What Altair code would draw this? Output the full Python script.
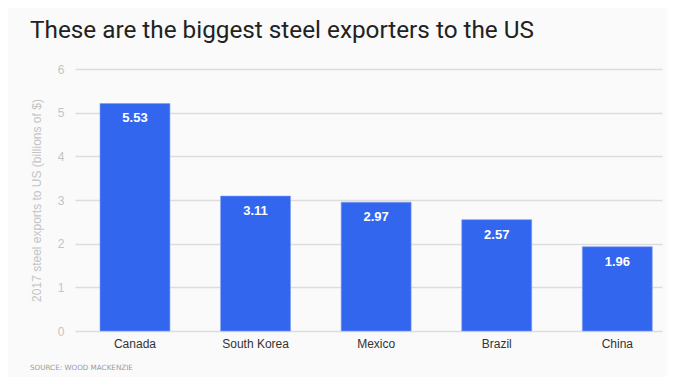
import altair as alt
import pandas as pd

countries = ["Canada", "South Korea", "Mexico", "Brazil", "China"]
bar_heights = [5.21, 3.09, 2.95, 2.55, 1.93]
label_values = ["5.53", "3.11", "2.97", "2.57", "1.96"]
y_ticks = [0, 1, 2, 3, 4, 5, 6]

title_text = "These are the biggest steel exporters to the US"
source_text = "SOURCE: WOOD MACKENZIE"
y_title = "2017 steel exports to US (billions of $)"

df = pd.DataFrame({"country": countries, "value": bar_heights, "label": label_values})

BLUE = "#3366ee"
W, H = 587, 262

x = alt.X("country:N", sort=countries, title=None,
          scale=alt.Scale(paddingInner=0.42, paddingOuter=0.144, align=0.72),
          axis=alt.Axis(labelAngle=0, labelColor="#333333", labelFontSize=12,
                        labelFont="Liberation Sans", labelPadding=7,
                        domain=False, ticks=False, grid=False))
y = alt.Y("value:Q", title=y_title,
          scale=alt.Scale(domain=[0, 6], nice=False),
          axis=alt.Axis(values=y_ticks, labelColor="#c4c4c4", labelFontSize=12,
                        labelFont="Liberation Sans", labelPadding=11,
                        titleColor="#c4c4c4", titleFontSize=12, titleFontWeight="normal",
                        titleFont="Liberation Sans", titlePadding=14,
                        domain=False, ticks=False, grid=True,
                        gridColor="#dddddd", gridWidth=1.5))

bars = alt.Chart(df).mark_bar(color=BLUE, stroke="#7f9cf5", strokeWidth=0.6).encode(x=x, y=y)

labels = alt.Chart(df).mark_text(color="white", fontSize=13, fontWeight="bold",
                                 font="Liberation Sans", baseline="middle", dy=15).encode(
    x=alt.X("country:N", sort=countries), y="value:Q", text="label:N")

title = alt.Chart(pd.DataFrame({"t": [title_text]})).mark_text(
    align="left", baseline="alphabetic", fontSize=24.3, font="Roboto", color="#222222"
).encode(x=alt.value(30 - 75), y=alt.value(38 - 69), text="t:N")

source = alt.Chart(pd.DataFrame({"t": [source_text]})).mark_text(
    align="left", baseline="middle", fontSize=7.2, font="DejaVu Sans", color="#9a9a9a"
).encode(x=alt.value(30 - 75), y=alt.value(367.7 - 69), text="t:N")

chart = alt.layer(bars, labels, title, source).properties(
    width=W, height=H,
    autosize=alt.AutoSizeParams(type="none"),
    padding={"left": 67, "top": 61, "right": 5, "bottom": 46},
    background="#fafafa",
).configure_view(stroke=None)

chart.save("out.html", embed_options={"renderer": "svg", "actions": False})
